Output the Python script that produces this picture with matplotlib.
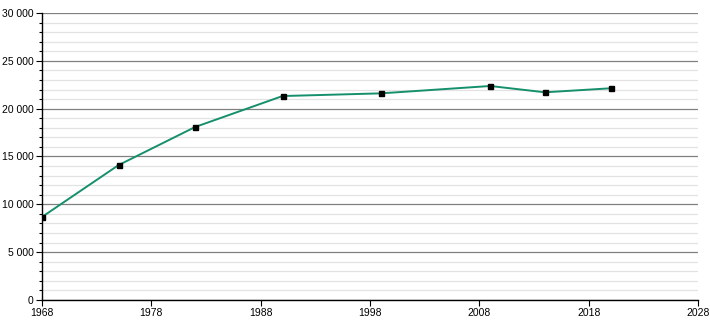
import matplotlib as mpl
mpl.rcParams.update({"font.family": "Liberation Sans"})

import matplotlib.pyplot as plt
from matplotlib.ticker import MultipleLocator, FuncFormatter

years = [1968, 1975, 1982, 1990, 1999, 2009, 2014, 2020]
population = [8680, 14100, 18080, 21320, 21600, 22370, 21710, 22130]
xticks = [1968, 1978, 1988, 1998, 2008, 2018, 2028]

fig = plt.figure(figsize=(7.1, 3.2), dpi=100)
ax = fig.add_axes([42 / 710, 20 / 320, 656 / 710, 287 / 320])

ax.set_xlim(1968, 2028)
ax.set_ylim(0, 30000)

ax.yaxis.set_major_locator(MultipleLocator(5000))
ax.yaxis.set_minor_locator(MultipleLocator(1000))
ax.set_xticks(xticks)
ax.set_xticklabels([str(x) for x in xticks])
ax.yaxis.set_major_formatter(FuncFormatter(lambda v, p: "{:,}".format(int(v)).replace(",", " ")))

ax.grid(True, which='minor', axis='y', color='#e3e3e3', linewidth=0.9)
ax.grid(True, which='major', axis='y', color='#808080', linewidth=0.9)
ax.set_axisbelow(True)

ax.plot(years, population, color='#16906c', linewidth=1.4, zorder=3)
ax.plot(years, population, linestyle='none', marker='s', markersize=3.6, color='black', zorder=4)

for s in ['top', 'right']:
    ax.spines[s].set_visible(False)
ax.spines['left'].set_linewidth(1.0)
ax.spines['bottom'].set_linewidth(1.0)

ax.tick_params(axis='both', which='major', labelsize=7.5, length=4, width=0.8, direction='out', pad=2)
ax.tick_params(axis='y', which='minor', length=2.5, width=0.8)

plt.savefig('out.png', dpi=100)
